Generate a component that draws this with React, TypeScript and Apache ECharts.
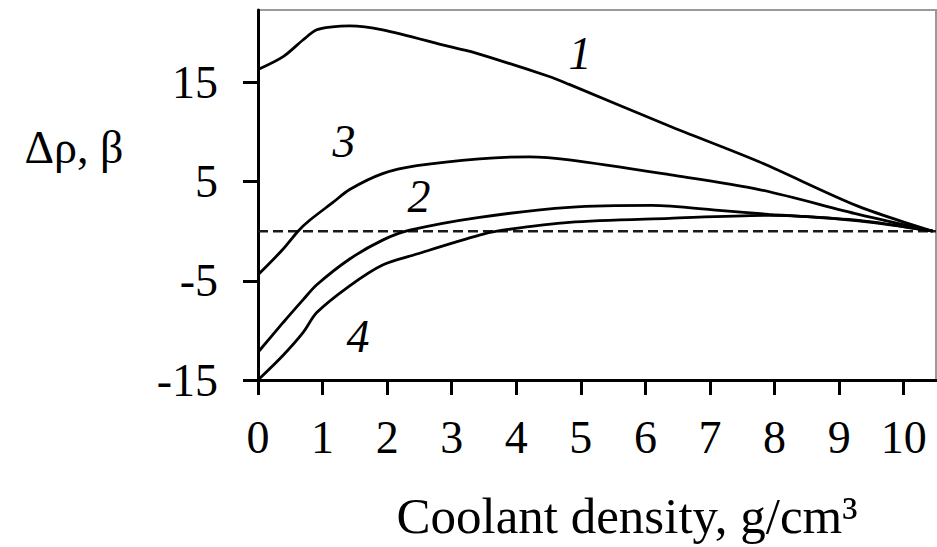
import React, { useEffect, useRef } from "react";
import * as echarts from "echarts";

// Curve 1
const curve1X = [0, 0.39, 0.7, 0.91, 1.15, 1.42, 1.93, 2.97, 3.3, 4.51, 4.82, 6.37, 7.76, 9.3, 10.45];
const curve1Y = [16.3, 17.6, 19.3, 20.3, 20.6, 20.7, 20.3, 18.6, 18.1, 15.6, 14.8, 10.6, 7.0, 2.5, 0];
// Curve 3
const curve3X = [0, 0.39, 0.62, 0.8, 1.16, 1.42, 1.93, 2.46, 3.43, 4.2, 4.82, 6.37, 7.76, 9.3, 10.45];
const curve3Y = [-4.4, -1.8, 0, 1.1, 2.9, 4.2, 5.8, 6.6, 7.3, 7.5, 7.2, 5.7, 4.2, 1.7, 0];
// Curve 2
const curve2X = [0, 0.39, 0.7, 0.91, 1.42, 1.93, 2.35, 3.43, 4.82, 6.1, 7.14, 7.91, 9.3, 10.45];
const curve2Y = [-12.2, -9.2, -6.9, -5.4, -2.8, -0.9, 0.1, 1.4, 2.4, 2.6, 2.1, 1.7, 1.1, 0];
// Curve 4
const curve4X = [0, 0.39, 0.7, 0.91, 1.42, 1.93, 2.46, 3.43, 3.79, 4.82, 6.37, 7.91, 9.3, 10.45];
const curve4Y = [-15, -12.5, -10.2, -8.2, -5.5, -3.4, -2.3, -0.4, 0.1, 0.9, 1.3, 1.6, 1.05, 0];

const xTicks = [0, 1, 2, 3, 4, 5, 6, 7, 8, 9, 10];
const yTicks = [-15, -5, 5, 15];
const zeroLineX = [0, 10.5];

const curveNames = ["1", "3", "2", "4"];

const FONT = '"Liberation Serif", "Times New Roman", serif';

function pairs(xs: number[], ys: number[]) {
  return xs.map((x, i) => [x, ys[i]]);
}

export default function App() {
  const ref = useRef<HTMLDivElement>(null);
  useEffect(() => {
    if (!ref.current) return;
    const chart = echarts.init(ref.current, null, { renderer: "svg" });
    const lineSeries = (name: string, data: number[][]) => ({
      type: "line",
      name,
      data,
      showSymbol: false,
      smooth: 0.3,
      lineStyle: { color: "#000", width: 2.8 },
      z: 3,
    });
    const textStyle = (text: string, size: number, italic = false) => ({
      text,
      fontFamily: FONT,
      fontSize: size,
      fontStyle: italic ? "italic" : "normal",
      fill: "#000",
      textAlign: "center",
      textVerticalAlign: "middle",
      align: "center",
      verticalAlign: "middle",
    });
    chart.setOption({
      animation: false,
      grid: {
        left: 258,
        right: 1,
        top: 10,
        bottom: 167,
        show: true,
        borderColor: "#9a9a9a",
        borderWidth: 2,
        backgroundColor: "transparent",
      },
      xAxis: {
        type: "value",
        min: 0,
        max: 10.5,
        interval: 1,
        splitLine: { show: false },
        axisLine: { show: true, onZero: false, lineStyle: { color: "#000", width: 3 } },
        axisTick: {
          show: true,
          inside: false,
          length: 15,
          customValues: xTicks,
          lineStyle: { color: "#000", width: 3 },
        },
        axisLabel: {
          customValues: xTicks,
          margin: 34,
          fontFamily: FONT,
          fontSize: 46,
          color: "#000",
        },
      },
      yAxis: {
        type: "value",
        min: -15,
        max: 22.3,
        interval: 10,
        splitLine: { show: false },
        axisLine: { show: true, onZero: false, lineStyle: { color: "#000", width: 3 } },
        axisTick: {
          show: true,
          inside: false,
          length: 15,
          customValues: yTicks,
          lineStyle: { color: "#000", width: 3 },
        },
        axisLabel: {
          customValues: yTicks,
          margin: 40,
          fontFamily: FONT,
          fontSize: 46,
          color: "#000",
        },
      },
      series: [
        lineSeries(curveNames[0], pairs(curve1X, curve1Y)),
        lineSeries(curveNames[1], pairs(curve3X, curve3Y)),
        lineSeries(curveNames[2], pairs(curve2X, curve2Y)),
        lineSeries(curveNames[3], pairs(curve4X, curve4Y)),
        {
          type: "line",
          data: zeroLineX.map((x) => [x, 0]),
          showSymbol: false,
          lineStyle: { color: "#1a1a1a", width: 2.5, type: [10, 5] },
          z: 2,
        },
      ],
      graphic: [
        { type: "text", x: 580, y: 53, style: textStyle(curveNames[0], 46, true) },
        { type: "text", x: 344, y: 141, style: textStyle(curveNames[1], 46, true) },
        { type: "text", x: 419, y: 196, style: textStyle(curveNames[2], 46, true) },
        { type: "text", x: 358, y: 336, style: textStyle(curveNames[3], 46, true) },
        { type: "text", x: 74, y: 147, style: textStyle("Δρ, β", 46) },
        { type: "text", x: 627, y: 516, style: textStyle("Coolant density, g/cm³", 51) },
      ],
    });
    return () => chart.dispose();
  }, []);
  return (
    <div
      ref={ref}
      style={{ position: "absolute", left: 0, top: 0, width: 937, height: 547, background: "#fff" }}
    />
  );
}
